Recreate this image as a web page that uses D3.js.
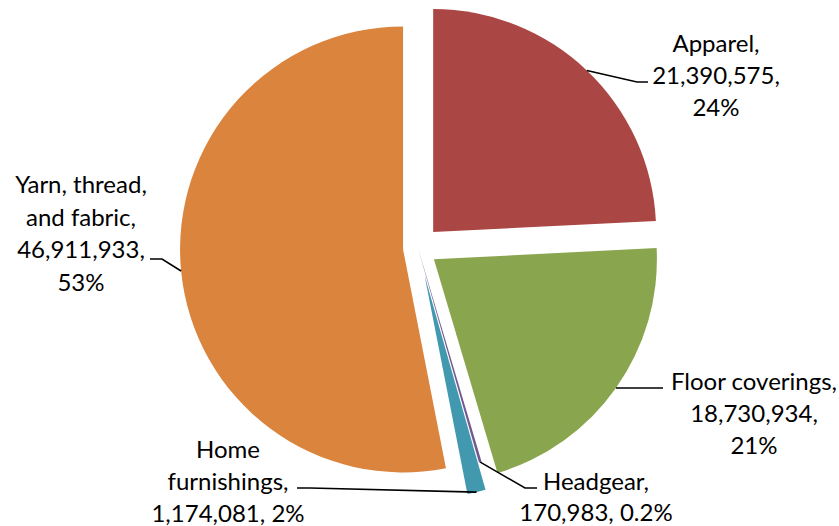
<!DOCTYPE html>
<html>
<head>
<meta charset="utf-8">
<script src="https://cdn.jsdelivr.net/npm/d3@7/dist/d3.min.js"></script>
<style>
  html, body { margin: 0; padding: 0; background: #fff; }
  svg { display: block; }
  text { font-family: Lato, "Open Sans", sans-serif; fill: #000; }
</style>
</head>
<body>
<svg id="chart" width="839" height="526"></svg>
<script>
// Textile product values by category
const categories = ["Apparel", "Floor coverings", "Headgear", "Home furnishings", "Yarn, thread, and fabric"];
const values = [21390575, 18730934, 170983, 1174081, 46911933];
const percentLabels = ["24%", "21%", "0.2%", "2%", "53%"];
const colors = ["#AA4643", "#89A54E", "#71588F", "#4198AF", "#DB843D"];

// Layout
const width = 839, height = 526;
const cx = 418, cy = 248, R = 223;
const explode = [22, 19.5, 0, 28, 15];          // per-slice offset along its mid-angle
const labelPos = [                                 // centre x, first baseline y, wrap width, line height
  { x: 716, y: 52,  w: 140, lh: 32 },
  { x: 754, y: 390, w: 170, lh: 32 },
  { x: 596, y: 490, w: 160, lh: 31 },
  { x: 228, y: 458, w: 155, lh: 32 },
  { x: 81,  y: 193, w: 145, lh: 32.5 }
];
const leaderElbows = [                             // label-side points of each leader line
  [[637, 82], [648, 82]],
  [[663, 388]],
  [[525, 488], [537, 488]],
  [[310, 488], [297, 488]],
  [[162, 259], [150, 259]]
];
const fontSize = 24;

const svg = d3.select("#chart");
const data = categories.map((c, i) => ({ name: c, value: values[i], pct: percentLabels[i], color: colors[i] }));

const pie = d3.pie().value(d => d.value).sort(null).startAngle(0).endAngle(2 * Math.PI);
const arcs = pie(data);
const arc = d3.arc().innerRadius(0).outerRadius(R);

const fmt = d3.format(",");

const g = svg.append("g").attr("transform", `translate(${cx},${cy})`);

// Slice offset and a point on its outer arc, in page coordinates
function sliceOffset(a, i) {
  const mid = (a.startAngle + a.endAngle) / 2;
  return [explode[i] * Math.sin(mid), -explode[i] * Math.cos(mid)];
}
function outerPoint(a, i) {
  const mid = (a.startAngle + a.endAngle) / 2;
  const [ox, oy] = sliceOffset(a, i);
  return [cx + ox + R * Math.sin(mid), cy + oy - R * Math.cos(mid)];
}

g.selectAll("path.slice")
  .data(arcs)
  .join("path")
  .attr("class", "slice")
  .attr("d", arc)
  .attr("fill", d => d.data.color)
  .attr("transform", (d, i) => `translate(${sliceOffset(d, i)})`);

// Leader lines
const line = d3.line();
svg.selectAll("path.leader")
  .data(arcs)
  .join("path")
  .attr("class", "leader")
  .attr("d", (d, i) => line([outerPoint(d, i), ...leaderElbows[i]]))
  .attr("fill", "none")
  .attr("stroke", "#000")
  .attr("stroke-width", 1.6);

// Labels: "name, value, pct" wrapped to the given width
const labels = svg.selectAll("text.label")
  .data(arcs)
  .join("text")
  .attr("class", "label")
  .attr("text-anchor", "middle")
  .attr("font-size", fontSize);

labels.each(function (d, i) {
  const t = d3.select(this);
  const pos = labelPos[i];
  const full = `${d.data.name}, ${fmt(d.data.value)}, ${d.data.pct}`;
  const words = full.split(" ");
  const lines = [];
  let cur = [];
  const probe = t.append("tspan");
  for (const w of words) {
    const test = cur.concat(w).join(" ");
    probe.text(test);
    if (cur.length && probe.node().getComputedTextLength() > pos.w) {
      lines.push(cur.join(" "));
      cur = [w];
    } else {
      cur.push(w);
    }
  }
  if (cur.length) lines.push(cur.join(" "));
  probe.remove();
  lines.forEach((ln, k) => {
    t.append("tspan")
      .attr("x", pos.x)
      .attr("y", pos.y + k * pos.lh)
      .text(ln);
  });
});
</script>
</body>
</html>
